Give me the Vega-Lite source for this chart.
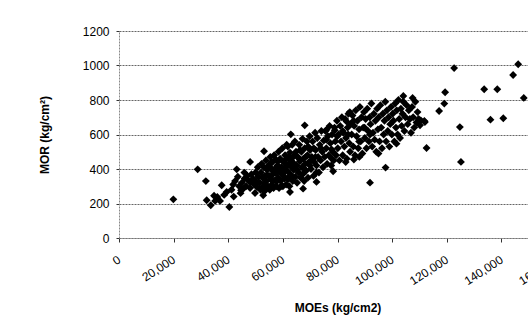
{
  "$schema": "https://vega.github.io/schema/vega-lite/v6.json",
  "autosize": {"type": "none"},
  "padding": {"left": 119, "top": 31, "right": 0, "bottom": 97},
  "width": 437,
  "height": 207,
  "background": "white",
  "config": {
    "font": "Liberation Sans",
    "view": {"stroke": null},
    "axis": {"labelFont": "Liberation Sans", "titleFont": "Liberation Sans", "labelColor": "#000", "titleColor": "#000", "labelFontSize": 12, "titleFontSize": 12, "titleFontWeight": "bold"}
  },
  "data": {"values": [
    {"moe":19900,"mor":224},{"moe":28800,"mor":398},{"moe":31800,"mor":330},{"moe":32100,"mor":219},{"moe":33600,"mor":190},{"moe":36000,"mor":238},{"moe":37600,"mor":306},{"moe":39400,"mor":267},{"moe":41200,"mor":280},{"moe":40400,"mor":180},{"moe":43100,"mor":398},{"moe":45900,"mor":379},{"moe":48000,"mor":441},{"moe":53100,"mor":503},{"moe":45500,"mor":286},{"moe":49800,"mor":261},{"moe":48000,"mor":325},{"moe":34800,"mor":245},{"moe":35200,"mor":215},{"moe":44700,"mor":277},
    {"moe":68000,"mor":653},{"moe":62900,"mor":601},{"moe":61400,"mor":541},{"moe":76000,"mor":628},{"moe":79000,"mor":624},{"moe":83300,"mor":676},{"moe":84500,"mor":730},{"moe":77800,"mor":514},{"moe":78400,"mor":387},{"moe":72300,"mor":325},{"moe":67400,"mor":286},{"moe":62600,"mor":267},{"moe":52800,"mor":248},
    {"moe":97600,"mor":408},{"moe":107500,"mor":812},{"moe":104100,"mor":823},{"moe":112000,"mor":672},{"moe":110200,"mor":653},{"moe":112600,"mor":522},{"moe":125200,"mor":441},{"moe":124800,"mor":643},{"moe":117200,"mor":736},{"moe":119100,"mor":779},{"moe":119400,"mor":845},{"moe":122700,"mor":985},{"moe":146150,"mor":1007},{"moe":144300,"mor":945},{"moe":148200,"mor":812},{"moe":133700,"mor":862},{"moe":138500,"mor":862},{"moe":136000,"mor":686},{"moe":140700,"mor":694},{"moe":110500,"mor":682},{"moe":111800,"mor":678},{"moe":91900,"mor":321},{"moe":101600,"mor":547},
    {"moe":38500,"mor":250},{"moe":42500,"mor":330},{"moe":43500,"mor":355},{"moe":41800,"mor":310},{"moe":37000,"mor":215},{"moe":44500,"mor":260},{"moe":42000,"mor":240},
    {"moe":44000,"mor":300},{"moe":45000,"mor":320},{"moe":46000,"mor":345},{"moe":46500,"mor":300},{"moe":47000,"mor":360},{"moe":47500,"mor":330},{"moe":48000,"mor":290},{"moe":48500,"mor":370},{"moe":49000,"mor":345},{"moe":49500,"mor":310},{"moe":50000,"mor":380},{"moe":50000,"mor":330},{"moe":50500,"mor":295},{"moe":50800,"mor":410},{"moe":51000,"mor":355},
    {"moe":51500,"mor":320},{"moe":51800,"mor":280},{"moe":52000,"mor":380},{"moe":52200,"mor":430},{"moe":52500,"mor":350},{"moe":52800,"mor":300},{"moe":53000,"mor":410},{"moe":53200,"mor":270},{"moe":53500,"mor":360},{"moe":53800,"mor":450},{"moe":54000,"mor":330},{"moe":54200,"mor":395},{"moe":54500,"mor":300},{"moe":54700,"mor":420},{"moe":55000,"mor":360},{"moe":55200,"mor":280},{"moe":55400,"mor":470},{"moe":55500,"mor":340},{"moe":55800,"mor":395},
    {"moe":56000,"mor":310},{"moe":56200,"mor":440},{"moe":56400,"mor":370},{"moe":56600,"mor":290},{"moe":56800,"mor":480},{"moe":57000,"mor":400},{"moe":57200,"mor":335},{"moe":57400,"mor":455},{"moe":57600,"mor":300},{"moe":57800,"mor":380},{"moe":58000,"mor":420},{"moe":58200,"mor":350},{"moe":58400,"mor":500},{"moe":58600,"mor":290},{"moe":58800,"mor":395},{"moe":59000,"mor":460},{"moe":59200,"mor":330},{"moe":59400,"mor":410},{"moe":59600,"mor":370},{"moe":59800,"mor":520},{"moe":60000,"mor":300},
    {"moe":60200,"mor":440},{"moe":60400,"mor":380},{"moe":60600,"mor":345},{"moe":60800,"mor":480},{"moe":61000,"mor":410},{"moe":61200,"mor":310},{"moe":61400,"mor":460},{"moe":61600,"mor":390},{"moe":61800,"mor":530},{"moe":62000,"mor":350},{"moe":62200,"mor":430},{"moe":62400,"mor":300},{"moe":62600,"mor":495},{"moe":62800,"mor":370},{"moe":63000,"mor":450},{"moe":63200,"mor":410},{"moe":63400,"mor":540},{"moe":63600,"mor":330},{"moe":63800,"mor":470},{"moe":64000,"mor":395},{"moe":64200,"mor":430},{"moe":64400,"mor":560},{"moe":64600,"mor":355},{"moe":64800,"mor":500},
    {"moe":65000,"mor":420},{"moe":65200,"mor":320},{"moe":65500,"mor":470},{"moe":65800,"mor":380},{"moe":66000,"mor":540},{"moe":66200,"mor":445},{"moe":66500,"mor":350},{"moe":66800,"mor":500},{"moe":67000,"mor":410},{"moe":67200,"mor":575},{"moe":67500,"mor":460},{"moe":67800,"mor":330},{"moe":68000,"mor":520},{"moe":68200,"mor":430},{"moe":68500,"mor":390},{"moe":68800,"mor":560},{"moe":69000,"mor":480},{"moe":69200,"mor":350},{"moe":69500,"mor":440},{"moe":69800,"mor":590},{"moe":70000,"mor":510},
    {"moe":70300,"mor":400},{"moe":70600,"mor":470},{"moe":70900,"mor":560},{"moe":71200,"mor":360},{"moe":71500,"mor":440},{"moe":71800,"mor":610},{"moe":72000,"mor":510},{"moe":72300,"mor":420},{"moe":72600,"mor":580},{"moe":72900,"mor":470},{"moe":73200,"mor":380},{"moe":73500,"mor":540},{"moe":73800,"mor":450},{"moe":74100,"mor":620},{"moe":74400,"mor":500},{"moe":74700,"mor":410},{"moe":75000,"mor":565},
    {"moe":75300,"mor":470},{"moe":75600,"mor":620},{"moe":75900,"mor":520},{"moe":76200,"mor":430},{"moe":76500,"mor":590},{"moe":76800,"mor":480},{"moe":77100,"mor":650},{"moe":77400,"mor":550},{"moe":77700,"mor":420},{"moe":78000,"mor":600},{"moe":78300,"mor":500},{"moe":78600,"mor":450},{"moe":78900,"mor":640},{"moe":79200,"mor":560},{"moe":79500,"mor":480},{"moe":79800,"mor":680},
    {"moe":80100,"mor":520},{"moe":80400,"mor":600},{"moe":80700,"mor":450},{"moe":81000,"mor":650},{"moe":81300,"mor":560},{"moe":81600,"mor":700},{"moe":81900,"mor":480},{"moe":82200,"mor":610},{"moe":82500,"mor":530},{"moe":82800,"mor":690},{"moe":83100,"mor":580},{"moe":83400,"mor":460},{"moe":83700,"mor":640},{"moe":84000,"mor":720},{"moe":84300,"mor":550},{"moe":84600,"mor":500},{"moe":84900,"mor":660},
    {"moe":85200,"mor":600},{"moe":85500,"mor":710},{"moe":85800,"mor":530},{"moe":86100,"mor":650},{"moe":86400,"mor":480},{"moe":86700,"mor":740},{"moe":87000,"mor":590},{"moe":87300,"mor":680},{"moe":87600,"mor":520},{"moe":87900,"mor":630},{"moe":88200,"mor":760},{"moe":88500,"mor":560},{"moe":88800,"mor":700},{"moe":89100,"mor":490},{"moe":89400,"mor":640},{"moe":89700,"mor":730},
    {"moe":90000,"mor":580},{"moe":90300,"mor":690},{"moe":90600,"mor":520},{"moe":90900,"mor":750},{"moe":91200,"mor":620},{"moe":91500,"mor":560},{"moe":91800,"mor":700},{"moe":92100,"mor":660},{"moe":92400,"mor":780},{"moe":92700,"mor":530},{"moe":93000,"mor":610},{"moe":93300,"mor":720},{"moe":93600,"mor":570},{"moe":93900,"mor":680},{"moe":94200,"mor":500},{"moe":94500,"mor":750},
    {"moe":94800,"mor":630},{"moe":95100,"mor":700},{"moe":95400,"mor":560},{"moe":95700,"mor":770},{"moe":96000,"mor":640},{"moe":96300,"mor":520},{"moe":96600,"mor":720},{"moe":96900,"mor":600},{"moe":97200,"mor":680},{"moe":97500,"mor":790},{"moe":97800,"mor":560},{"moe":98100,"mor":740},{"moe":98400,"mor":620},{"moe":98700,"mor":700},{"moe":99000,"mor":530},{"moe":99300,"mor":660},{"moe":99600,"mor":760},
    {"moe":99900,"mor":600},{"moe":100200,"mor":720},{"moe":100500,"mor":680},{"moe":100800,"mor":560},{"moe":101100,"mor":780},{"moe":101400,"mor":640},{"moe":101700,"mor":740},{"moe":102000,"mor":600},{"moe":102300,"mor":800},{"moe":102600,"mor":690},{"moe":102900,"mor":580},{"moe":103200,"mor":750},{"moe":103500,"mor":650},{"moe":103800,"mor":720},{"moe":104100,"mor":790},
    {"moe":104500,"mor":620},{"moe":104900,"mor":700},{"moe":105300,"mor":770},{"moe":105700,"mor":660},{"moe":106100,"mor":740},{"moe":106500,"mor":690},{"moe":106900,"mor":610},{"moe":107300,"mor":760},{"moe":107700,"mor":700},{"moe":108100,"mor":640},{"moe":108500,"mor":790},{"moe":108900,"mor":670},{"moe":109300,"mor":730},{"moe":109700,"mor":690},
    {"moe":83000,"mor":440},{"moe":88000,"mor":470},{"moe":95000,"mor":490},{"moe":86000,"mor":455},
    {"moe":53300,"mor":320},{"moe":54300,"mor":365},{"moe":55300,"mor":410},{"moe":56300,"mor":335},{"moe":57300,"mor":380},{"moe":58300,"mor":445},{"moe":59300,"mor":300},{"moe":60300,"mor":360},{"moe":61300,"mor":425},{"moe":62300,"mor":470},{"moe":63300,"mor":355},{"moe":64300,"mor":480},{"moe":65300,"mor":395},{"moe":66300,"mor":510},{"moe":67300,"mor":370},{"moe":68300,"mor":470},{"moe":69300,"mor":530},{"moe":70300,"mor":450},{"moe":71300,"mor":520},{"moe":72300,"mor":380},
    {"moe":53900,"mor":290},{"moe":55900,"mor":440},{"moe":57900,"mor":330},{"moe":59900,"mor":400},{"moe":61900,"mor":340},{"moe":63900,"mor":420},{"moe":65900,"mor":460},{"moe":67900,"mor":400},{"moe":69900,"mor":420},{"moe":71900,"mor":470},{"moe":73900,"mor":520},{"moe":75900,"mor":570},{"moe":77900,"mor":460},{"moe":79900,"mor":590},{"moe":81900,"mor":620},{"moe":83900,"mor":600},{"moe":85900,"mor":680},{"moe":87900,"mor":560},{"moe":89900,"mor":640},{"moe":91900,"mor":600}
  ]},
  "mark": {"type": "point", "shape": "diamond", "filled": true, "color": "#000", "size": 62, "opacity": 1},
  "encoding": {
    "x": {"field": "moe", "type": "quantitative", "title": "MOEs (kg/cm2)",
      "scale": {"domain": [0, 160000], "nice": false, "zero": true},
      "axis": {"values": [0,20000,40000,60000,80000,100000,120000,140000,160000], "format": ",d", "grid": false,
        "labelAngle": -33, "labelAlign": "right", "labelBaseline": "middle", "labelPadding": 16,
        "domainColor": "#777", "domainDash": [2,1], "tickColor": "#333", "tickSize": 4, "titlePadding": 16}},
    "y": {"field": "mor", "type": "quantitative", "title": "MOR (kg/cm²)",
      "scale": {"domain": [0, 1200], "nice": false},
      "axis": {"values": [0,200,400,600,800,1000,1200], "format": "d", "grid": true, "gridColor": "#666", "gridDash": [2,1], "gridWidth": 1,
        "domainColor": "#888", "domainDash": [2,1], "tickColor": "#333", "tickSize": 3, "labelPadding": 7, "titlePadding": 31}}
  }
}
